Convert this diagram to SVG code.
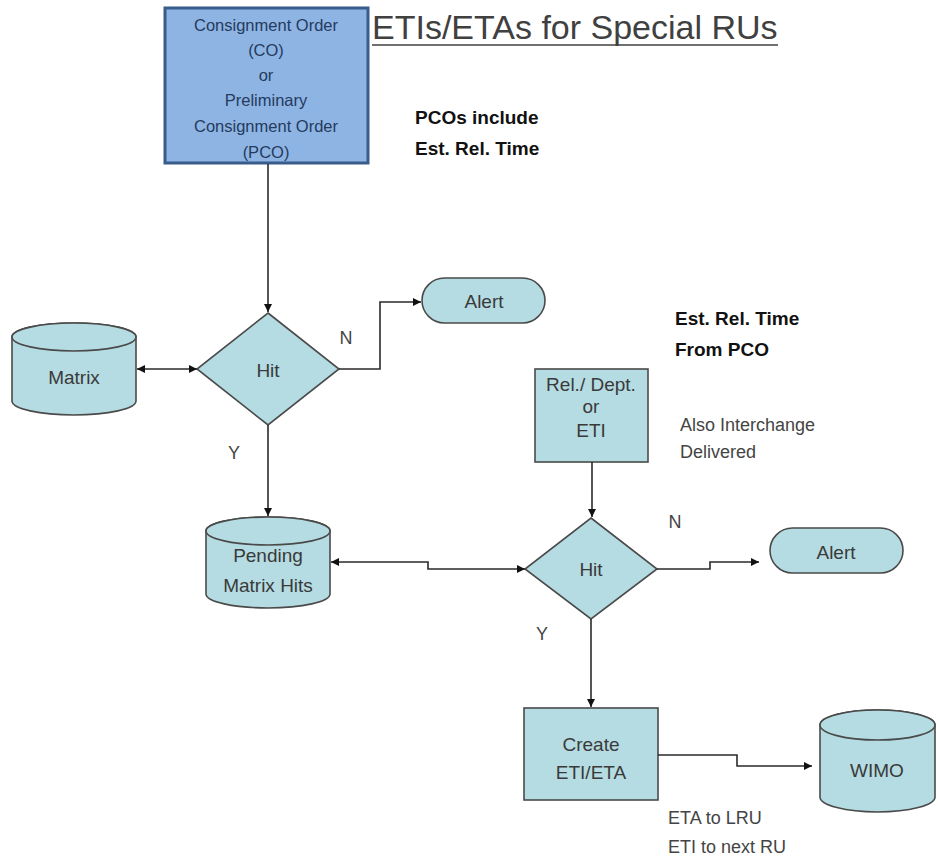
<svg xmlns="http://www.w3.org/2000/svg" width="938" height="856" viewBox="0 0 938 856">
<style>
.shape{fill:#b5dce2;stroke:#4a4a4a;stroke-width:1.6}
.lbl{font-family:"Liberation Sans",Arial,sans-serif;font-size:19px;fill:#3a3a3a;text-anchor:middle}
.note{font-family:"Liberation Sans",Arial,sans-serif;font-size:18px;fill:#444}
.bold{font-family:"Liberation Sans",Arial,sans-serif;font-size:19px;font-weight:bold;fill:#111}
.co{font-family:"Liberation Sans",Arial,sans-serif;font-size:16.5px;fill:#243b5e;text-anchor:middle}
.conn{fill:none;stroke:#2a2a2a;stroke-width:1.6}
</style>
<defs>
<marker id="ah" viewBox="0 0 10 10" refX="10" refY="5" markerWidth="8" markerHeight="8" markerUnits="userSpaceOnUse" orient="auto-start-reverse">
<path d="M0,0 L10,5 L0,10 Z" fill="#111"/>
</marker>
</defs>
<rect width="938" height="856" fill="#fff"/>

<g id="title">
<text x="372" y="39" font-family="Liberation Sans,Arial,sans-serif" font-size="34" fill="#404040">ETIs/ETAs for Special RUs</text>
<line x1="372" y1="45" x2="778" y2="45" stroke="#404040" stroke-width="1.5"/>
</g>

<g id="co">
<rect x="165" y="8" width="203" height="155" fill="#8eb4e3" stroke="#385d8a" stroke-width="3"/>
<text class="co" x="266" y="31">Consignment Order</text>
<text class="co" x="266" y="56">(CO)</text>
<text class="co" x="266" y="81">or</text>
<text class="co" x="266" y="106">Preliminary</text>
<text class="co" x="266" y="132">Consignment Order</text>
<text class="co" x="266" y="158">(PCO)</text>
</g>

<g id="note-pco">
<text class="bold" x="415" y="124">PCOs include</text>
<text class="bold" x="415" y="155">Est. Rel. Time</text>
</g>

<g id="matrix">
<path class="shape" d="M12,337 L12,401 A62,14 0 0 0 136,401 L136,337 A62,14 0 0 0 12,337 Z"/>
<ellipse class="shape" cx="74" cy="337" rx="62" ry="14"/>
<text class="lbl" x="74" y="384">Matrix</text>
</g>

<g id="hit1">
<polygon class="shape" points="268,313 339,369 268,425 197,369"/>
<text class="lbl" x="268" y="377">Hit</text>
</g>

<g id="alert1">
<rect class="shape" x="422" y="278" width="123" height="45" rx="22.5"/>
<text class="lbl" x="484" y="308">Alert</text>
</g>

<g id="note-est">
<text class="bold" x="675" y="325">Est. Rel. Time</text>
<text class="bold" x="675" y="356">From PCO</text>
</g>

<g id="rel">
<rect class="shape" x="535" y="369" width="113" height="93"/>
<text class="lbl" x="591" y="391">Rel./ Dept.</text>
<text class="lbl" x="591" y="413">or</text>
<text class="lbl" x="591" y="437">ETI</text>
</g>

<g id="note-interchange">
<text class="note" x="680" y="431">Also Interchange</text>
<text class="note" x="680" y="458">Delivered</text>
</g>

<g id="pending">
<path class="shape" d="M206,531 L206,594 A62,14 0 0 0 330,594 L330,531 A62,14 0 0 0 206,531 Z"/>
<ellipse class="shape" cx="268" cy="531" rx="62" ry="14"/>
<text class="lbl" x="268" y="562">Pending</text>
<text class="lbl" x="268" y="592">Matrix Hits</text>
</g>

<g id="hit2">
<polygon class="shape" points="591,518 657,569 591,619 525,569"/>
<text class="lbl" x="591" y="576">Hit</text>
</g>

<g id="alert2">
<rect class="shape" x="770" y="528" width="133" height="45" rx="22.5"/>
<text class="lbl" x="836" y="559">Alert</text>
</g>

<g id="create">
<rect class="shape" x="524" y="708" width="134" height="92"/>
<text class="lbl" x="591" y="751">Create</text>
<text class="lbl" x="591" y="779">ETI/ETA</text>
</g>

<g id="wimo">
<path class="shape" d="M820,725 L820,797 A57.5,15 0 0 0 935,797 L935,725 A57.5,15 0 0 0 820,725 Z"/>
<ellipse class="shape" cx="877.5" cy="725" rx="57.5" ry="15"/>
<text class="lbl" x="877" y="777">WIMO</text>
</g>

<g id="note-eta">
<text class="note" x="668" y="824">ETA to LRU</text>
<text class="note" x="668" y="853">ETI to next RU</text>
</g>

<g id="labels">
<text class="note" x="346" y="344" text-anchor="middle">N</text>
<text class="note" x="234" y="459" text-anchor="middle">Y</text>
<text class="note" x="675" y="528" text-anchor="middle">N</text>
<text class="note" x="542" y="640" text-anchor="middle">Y</text>
</g>

<g id="connectors">
<path class="conn" d="M268,164 L268,312" marker-end="url(#ah)"/>
<path class="conn" d="M137,369 L197,369" marker-start="url(#ah)" marker-end="url(#ah)"/>
<path class="conn" d="M339,369 L380,369 L380,302 L421,302" marker-end="url(#ah)"/>
<path class="conn" d="M268,425 L268,516" marker-end="url(#ah)"/>
<path class="conn" d="M331,562 L428,562 L428,569 L525,569" marker-start="url(#ah)" marker-end="url(#ah)"/>
<path class="conn" d="M592,462 L592,517" marker-end="url(#ah)"/>
<path class="conn" d="M657,569 L710,569 L710,562 L759,562" marker-end="url(#ah)"/>
<path class="conn" d="M591,619 L591,707" marker-end="url(#ah)"/>
<path class="conn" d="M658,755 L737,755 L737,766 L812,766" marker-end="url(#ah)"/>
</g>
</svg>
